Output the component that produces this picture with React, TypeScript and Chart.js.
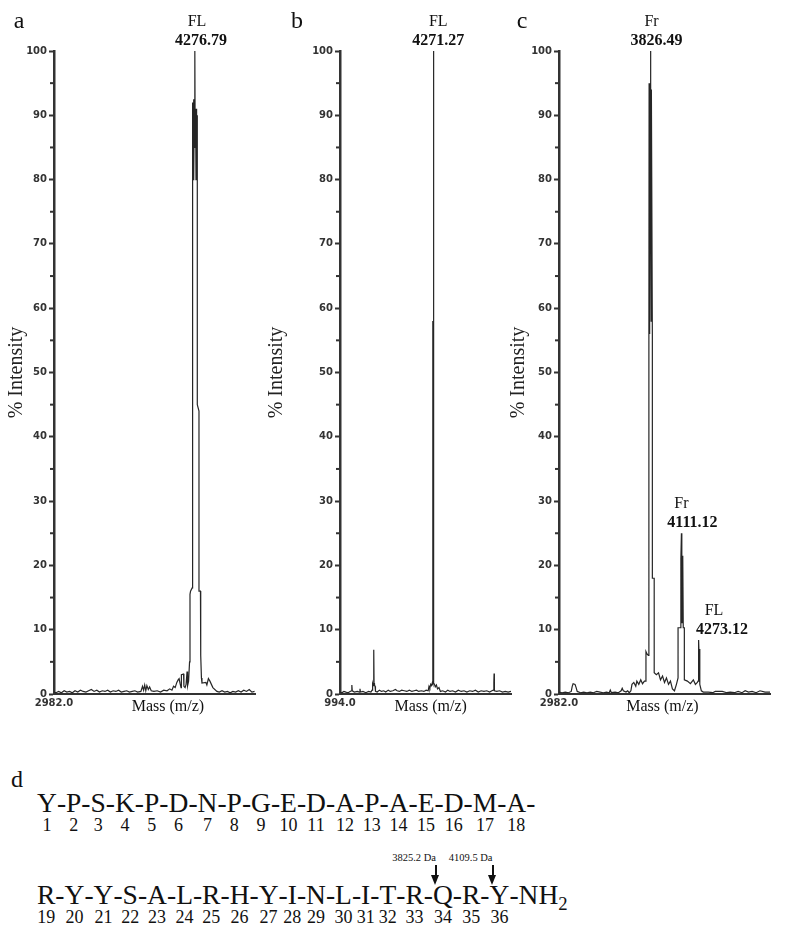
import React, { useEffect, useRef } from "react";
import { Chart, registerables } from "chart.js";

Chart.register(...registerables);

// ---------------- data ----------------
// Panel a spectrum (m/z, % intensity)
const massA = [
  2982, 3000, 3025, 3050, 3075, 3100, 3125, 3150, 3175, 3200, 3225, 3250, 3275, 3300, 3325, 3350, 3375, 3400,
  3425, 3450, 3475, 3500, 3525, 3550, 3575, 3600, 3625, 3650, 3675, 3700, 3725, 3750, 3780, 3795, 3805, 3815,
  3825, 3835, 3848, 3860, 3875, 3900, 3930, 3960, 3990, 4020, 4045, 4065, 4080, 4095, 4110, 4122, 4131, 4140,
  4149, 4152, 4172, 4175, 4186, 4195, 4204, 4209, 4218, 4227, 4231, 4236, 4251, 4255, 4255, 4259.6, 4263.3,
  4266.9, 4270.5, 4274, 4276.8, 4278.8, 4282.5, 4286.2, 4289.8, 4293.5, 4298, 4298, 4313.5, 4313.5, 4327, 4327,
  4332, 4336, 4341, 4377, 4386, 4400, 4414, 4441, 4478, 4500, 4525, 4550, 4575, 4600, 4625, 4650, 4675, 4700,
  4725, 4750, 4775, 4800, 4824,
];
const intensityA = [
  0.3, 0.2, 0.4, 0.2, 0.5, 0.3, 0.4, 0.2, 0.5, 0.3, 0.6, 0.4, 0.3, 0.5, 0.7, 0.4, 0.6, 0.3,
  0.5, 0.4, 0.6, 0.3, 0.5, 0.4, 0.6, 0.3, 0.4, 0.5, 0.3, 0.4, 0.5, 0.3, 0.4, 1.2, 0.6, 1.4,
  0.5, 1.3, 0.7, 1.1, 0.5, 0.4, 0.5, 0.3, 0.6, 0.5, 0.8, 0.6, 1.2, 1.0, 1.8, 2.2, 2.4, 1.6,
  1.0, 3.0, 3.1, 1.2, 1.0, 1.5, 3.5, 1.3, 2.0, 5.0, 15.5, 16.0, 16.5, 60, 92, 80, 92.5,
  80, 92, 85, 100, 85, 91, 80, 91, 80, 90, 45, 44, 16, 16, 10.5,
  6, 2.5, 1.7, 1.8, 1.4, 2.4, 2.0, 1.0, 0.4, 0.3, 0.5, 0.3, 0.4, 0.2, 0.4, 0.3, 0.5, 0.3,
  0.6, 0.4, 0.7, 0.3, 0.4,
];

// Panel b spectrum
const massB = [
  994, 1060, 1130, 1200, 1280, 1350, 1395, 1410, 1425, 1500, 1600, 1680, 1696, 1712, 1800, 1900, 2000, 2080,
  2120, 2140, 2160, 2175, 2184, 2190, 2205, 2225, 2240, 2300, 2380, 2450, 2530, 2600, 2690, 2760, 2850, 2940,
  3000, 3080, 3160, 3250, 3340, 3430, 3520, 3600, 3680, 3760, 3850, 3940, 4020, 4090, 4120, 4150, 4180, 4210,
  4240, 4254, 4254, 4264, 4271.3, 4278, 4290, 4290, 4310, 4340, 4380, 4420, 4470, 4520, 4600, 4700, 4780, 4860,
  4950, 5050, 5150, 5250, 5350, 5450, 5550, 5650, 5750, 5850, 5950, 6050, 6150, 6250, 6330, 6380, 6395, 6400,
  6406, 6412, 6420, 6500, 6600, 6700, 6800, 6900, 7000,
];
const intensityB = [
  0.3, 0.2, 0.4, 0.3, 0.2, 0.4, 0.5, 1.4, 0.5, 0.3, 0.4, 0.3, 0.8, 0.3, 0.4, 0.2, 0.4, 0.3,
  0.6, 1.6, 1.3, 1.8, 6.9, 1.7, 1.5, 1.2, 0.4, 0.3, 0.6, 0.4, 0.5, 0.3, 0.6, 0.4, 0.5, 0.7,
  0.5, 0.4, 0.6, 0.5, 0.4, 0.6, 0.4, 0.5, 0.6, 0.4, 0.5, 0.4, 0.6, 0.5, 1.2, 0.9, 1.5, 1.3,
  1.8, 1.6, 58, 57, 100, 57, 58, 1.7, 1.5, 1.1, 1.4, 0.8, 1.0, 0.4, 0.5, 0.3, 0.6, 0.4,
  0.5, 0.3, 0.6, 0.4, 0.5, 0.3, 0.5, 0.4, 0.6, 0.3, 0.5, 0.4, 0.5, 0.3, 0.5, 0.6, 1.0, 1.8,
  3.2, 1.8, 0.5, 0.4, 0.5, 0.3, 0.4, 0.3, 0.4,
];

// Panel c spectrum
const massC = [
  2982, 3010, 3040, 3070, 3095, 3104, 3112, 3130, 3140, 3150, 3180, 3210, 3240, 3270, 3300, 3330, 3360, 3390,
  3420, 3445, 3455, 3465, 3500, 3530, 3555, 3565, 3575, 3600, 3615, 3630, 3645, 3655, 3672, 3690, 3700, 3718,
  3736, 3752, 3770, 3780, 3784, 3795, 3806, 3811, 3811, 3813, 3815.5, 3818, 3820.5, 3823, 3825, 3826.5, 3828,
  3830, 3832, 3834, 3843, 3843, 3860, 3860, 3880, 3900, 3918, 3937, 3955, 3973, 3992, 4010, 4028, 4047, 4065,
  4080, 4080, 4106, 4106, 4111.1, 4113.5, 4116, 4119, 4122, 4125, 4128, 4138, 4138, 4166, 4194, 4221, 4240,
  4258, 4264, 4266, 4269.5, 4273.1, 4276, 4279, 4282, 4295, 4313, 4359, 4400, 4423, 4488, 4530, 4561, 4600,
  4634, 4670, 4699, 4730, 4763, 4800, 4836, 4882, 4928,
];
const intensityC = [
  0.3, 0.2, 0.3, 0.2, 0.4, 1.2, 1.6, 1.5, 1.0, 0.4, 0.2, 0.3, 0.2, 0.3, 0.2, 0.4, 0.3, 0.2,
  0.3, 0.2, 0.6, 0.2, 0.3, 0.2, 0.5, 0.9, 0.5, 0.3, 0.5, 0.2, 0.5, 1.5, 1.8, 1.2, 2.0, 1.5,
  2.2, 1.6, 2.0, 2.0, 6.6, 6.2, 6.0, 6.5, 55, 95, 56, 95, 58, 95, 70, 100, 72,
  95, 58, 94, 56, 18, 18, 3.3, 3.0, 3.3, 2.2, 2.8, 1.8, 2.5, 1.5, 2.0, 0.8, 0.5, 1.5,
  2.5, 10.3, 10.3, 21, 25, 21.5, 11, 21.5, 11, 21, 10.3, 10.3, 2.2, 2.0, 1.6, 2.2, 1.5,
  1.8, 2.0, 7, 5, 8.4, 5, 7, 1.5, 0.5, 0.3, 0.3, 0.2, 0.4, 0.4, 0.2, 0.3, 0.2,
  0.4, 0.2, 0.5, 0.3, 0.4, 0.2, 0.5, 0.3, 0.3,
];

// axis ranges (first value is the printed start label)
const rangeA = [2982.0, 4828];
const rangeB = [994.0, 7000];
const rangeC = [2982.0, 4928];

// labelled peaks
const peaksA = [{ tag: "FL", mass: 4276.79, intensity: 100 }];
const peaksB = [{ tag: "FL", mass: 4271.27, intensity: 100 }];
const peaksC = [
  { tag: "Fr", mass: 3826.49, intensity: 100 },
  { tag: "Fr", mass: 4111.12, intensity: 25 },
  { tag: "FL", mass: 4273.12, intensity: 8.4 },
];

// peptide sequence
const seqLine1 = ["Y", "P", "S", "K", "P", "D", "N", "P", "G", "E", "D", "A", "P", "A", "E", "D", "M", "A"];
const seqLine2 = ["R", "Y", "Y", "S", "A", "L", "R", "H", "Y", "I", "N", "L", "I", "T", "R", "Q", "R", "Y"];
const cleavages = [
  { after: 33, label: "3825.2 Da" },
  { after: 35, label: "4109.5 Da" },
];

// ---------------- layout / style ----------------
const CANVAS_H = 730;
const SERIF = '"Liberation Serif", "Times New Roman", serif';
const TICK_FONT = { family: '"DejaVu Sans", sans-serif', weight: "bold" as const, size: 10 };

const panels = [
  {
    key: "a", letter: "a", mass: massA, intensity: intensityA, range: rangeA, peaks: peaksA,
    left: 0, width: 262, yAxisWidth: 54, padRight: 7, letterX: 19, titleFrac: 0.567,
    offsets: [{ tag: 2, value: 6 }],
  },
  {
    key: "b", letter: "b", mass: massB, intensity: intensityB, range: rangeB, peaks: peaksB,
    left: 260, width: 258, yAxisWidth: 80, padRight: 7, letterX: 37, titleFrac: 0.53,
    offsets: [{ tag: 5, value: 5 }],
  },
  {
    key: "c", letter: "c", mass: massC, intensity: intensityC, range: rangeC, peaks: peaksC,
    left: 502, width: 273, yAxisWidth: 57, padRight: 5, letterX: 20, titleFrac: 0.49,
    offsets: [{ tag: 1, value: 6 }, { tag: 0, value: 11 }, { tag: 15, value: 23 }],
  },
];

type Panel = (typeof panels)[number];

function makePlugin(p: Panel) {
  return {
    id: "specAnno",
    afterDraw(chart: any) {
      const ctx = chart.ctx as CanvasRenderingContext2D;
      const xs = chart.scales.x;
      const ys = chart.scales.y;
      const area = chart.chartArea;
      ctx.save();
      // minor ticks on y axis
      ctx.fillStyle = "#333";
      for (let v = 5; v < 100; v += 10) {
        const py = ys.getPixelForValue(v);
        ctx.fillRect(area.left - 4, py - 1, 3, 2);
      }
      ctx.fillStyle = "#111";
      ctx.textAlign = "center";
      ctx.textBaseline = "alphabetic";
      // panel letter
      ctx.font = `24px ${SERIF}`;
      ctx.fillText(p.letter, p.letterX, 28);
      // peak labels
      p.peaks.forEach((pk, i) => {
        const off = p.offsets[i];
        const px = xs.getPixelForValue(pk.mass);
        const py = ys.getPixelForValue(pk.intensity);
        ctx.font = `16px ${SERIF}`;
        ctx.fillText(pk.tag, px + off.tag, py - 25);
        ctx.font = `bold 16px ${SERIF}`;
        ctx.fillText(pk.mass.toFixed(2), px + off.value, py - 6);
      });
      // x axis title
      ctx.font = `16px ${SERIF}`;
      ctx.fillText("Mass (m/z)", area.left + (area.right - area.left) * p.titleFrac, area.bottom + 17);
      ctx.restore();
    },
  };
}

function Spectrum({ p }: { p: Panel }) {
  const ref = useRef<HTMLCanvasElement>(null);
  useEffect(() => {
    if (!ref.current) return;
    const chart = new Chart(ref.current, {
      type: "line",
      data: {
        datasets: [
          {
            data: p.mass.map((m, i) => ({ x: m, y: p.intensity[i] })),
            borderColor: "#262626",
            borderWidth: 1.2,
            pointRadius: 0,
            tension: 0,
            fill: false,
          },
        ],
      },
      options: {
        animation: false,
        responsive: false,
        events: [],
        layout: { padding: { top: 51, right: p.padRight, left: 0, bottom: 0 } },
        plugins: { legend: { display: false }, tooltip: { enabled: false } },
        scales: {
          x: {
            type: "linear",
            min: p.range[0],
            max: p.range[1],
            afterFit: (s: any) => {
              s.height = CANVAS_H - 694;
            },
            afterBuildTicks: (s: any) => {
              s.ticks = [{ value: p.range[0] }];
            },
            ticks: {
              callback: (v: any) => Number(v).toFixed(1),
              font: TICK_FONT,
              color: "#333",
              padding: 3,
              maxRotation: 0,
              autoSkip: false,
            },
            grid: { display: false, drawTicks: false },
            border: { display: true, color: "#333", width: 2 },
          },
          y: {
            type: "linear",
            min: 0,
            max: 100,
            afterFit: (s: any) => {
              s.width = p.yAxisWidth;
            },
            ticks: { stepSize: 10, font: TICK_FONT, color: "#333", padding: 2 },
            grid: {
              drawOnChartArea: false,
              drawTicks: true,
              tickLength: 5,
              tickWidth: 2,
              tickColor: "#333",
              color: "#333",
            },
            border: { display: true, color: "#333", width: 2.5 },
            title: {
              display: true,
              text: "% Intensity",
              font: { family: SERIF, size: 20 },
              color: "#222",
              padding: { top: 5, bottom: 0 },
            },
          },
        },
      },
      plugins: [makePlugin(p)],
    } as any);
    return () => chart.destroy();
  }, [p]);
  return (
    <canvas
      ref={ref}
      width={p.width}
      height={CANVAS_H}
      style={{ position: "absolute", left: p.left, top: 0, width: p.width, height: CANVAS_H, display: "block" }}
    />
  );
}

function Residue({ aa, num }: { aa: string; num: number }) {
  return (
    <span style={{ position: "relative" }}>
      {aa}
      <span
        style={{
          position: "absolute",
          left: "50%",
          top: 29,
          transform: "translateX(-50%)",
          fontSize: 18,
          lineHeight: "18px",
          whiteSpace: "nowrap",
        }}
      >
        {num}
      </span>
    </span>
  );
}

function Hyphen({ after }: { after: number }) {
  const cut = cleavages.find((c) => c.after === after);
  return (
    <span style={{ position: "relative" }}>
      -
      {cut && (
        <span style={{ position: "absolute", left: "100%", top: 0, width: 0, height: 0 }}>
          <span
            style={{
              position: "absolute",
              right: -3,
              top: -27,
              fontSize: 10.5,
              lineHeight: "11px",
              whiteSpace: "nowrap",
            }}
          >
            {cut.label}
          </span>
          <span style={{ position: "absolute", left: 2, top: -14, width: 2, height: 12, background: "#111" }} />
          <span
            style={{
              position: "absolute",
              left: -1.5,
              top: -4,
              width: 0,
              height: 0,
              borderLeft: "4.5px solid transparent",
              borderRight: "4.5px solid transparent",
              borderTop: "10px solid #111",
            }}
          />
        </span>
      )}
    </span>
  );
}

export default function App() {
  return (
    <div
      style={{
        position: "absolute",
        left: 0,
        top: 0,
        width: 800,
        height: 934,
        background: "#fff",
        overflow: "hidden",
        fontFamily: SERIF,
        color: "#111",
      }}
    >
      {panels.map((p) => (
        <Spectrum key={p.key} p={p} />
      ))}
      <div style={{ position: "absolute", left: 11, top: 767, fontSize: 24, lineHeight: "24px" }}>d</div>
      <div style={{ position: "absolute", left: 37, top: 789, fontSize: 27.5, lineHeight: "27px", whiteSpace: "nowrap" }}>
        {seqLine1.map((aa, i) => (
          <React.Fragment key={i}>
            <Residue aa={aa} num={i + 1} />
            <Hyphen after={i + 1} />
          </React.Fragment>
        ))}
      </div>
      <div style={{ position: "absolute", left: 37, top: 881, fontSize: 27.5, lineHeight: "27px", whiteSpace: "nowrap" }}>
        {seqLine2.map((aa, i) => (
          <React.Fragment key={i}>
            <Residue aa={aa} num={i + 19} />
            <Hyphen after={i + 19} />
          </React.Fragment>
        ))}
        NH
        <span style={{ fontSize: "0.68em", position: "relative", top: "0.3em" }}>2</span>
      </div>
    </div>
  );
}
